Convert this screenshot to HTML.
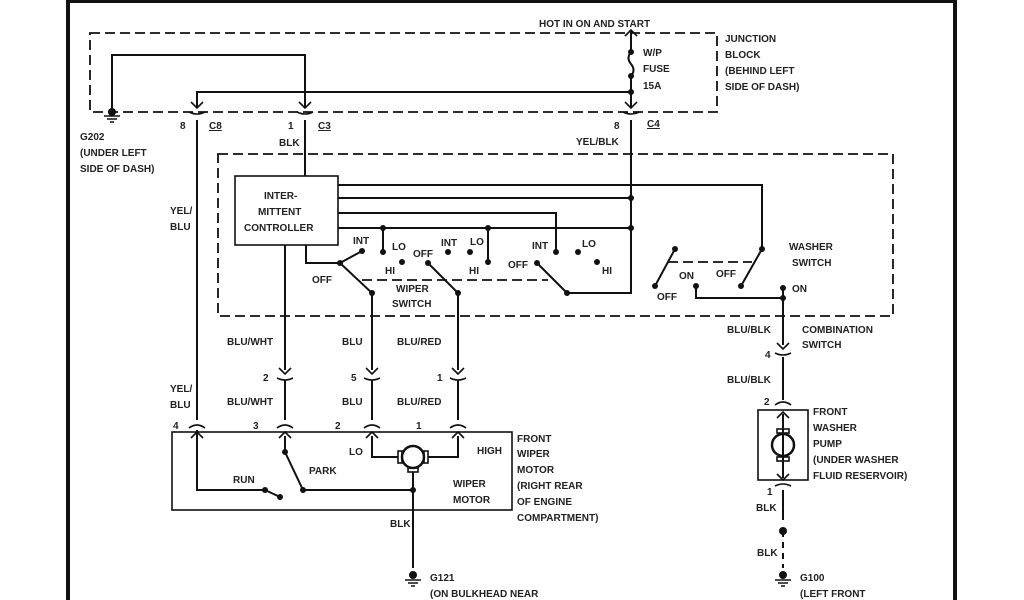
<!DOCTYPE html>
<html><head><style>
html,body{margin:0;padding:0;background:#fff;width:1024px;height:600px;overflow:hidden}
svg text{font-family:"Liberation Sans",Arial,sans-serif;font-size:10px;font-weight:bold;fill:#222}
</style></head><body>
<svg width="1024" height="600" viewBox="0 0 1024 600" xmlns="http://www.w3.org/2000/svg">
<g fill="none" stroke="#111">
<path d="M68,600 V1 H955 V600" stroke-width="4"/>
<g stroke-dasharray="10,5" stroke-width="1.8">
<rect x="90" y="33" width="627" height="79"/>
<rect x="218" y="154" width="675" height="162"/>
<path d="M362,280 H548"/>
<path d="M668,262 H752"/>
</g>
<g stroke-width="2">
<path d="M112,112 V55 H305 V108"/>
<path d="M197,108 V92 H631"/>
<path d="M631,30 V50 M631,76 V108"/>
<path d="M631,52 q-5,6 0,12 q5,6 0,12"/>
<path d="M305,120 V176"/>
<path d="M631,120 V293 H567"/>
<path d="M197,120 V420"/>
<rect x="235" y="176" width="103" height="69" stroke-width="1.6"/>
<path d="M338,185 H762 V249"/>
<path d="M338,198 H631"/>
<path d="M338,213 H556 V252"/>
<path d="M338,228 H631"/>
<path d="M383,228 V252 M488,228 V262"/>
<path d="M306,245 V263 H340 L362,251 M340,263 L372,293 V370"/>
<path d="M285,245 V370"/>
<path d="M428,263 L458,293 V370"/>
<path d="M537,263 L567,293"/>
<path d="M675,249 L655,286"/>
<path d="M762,249 L741,286"/>
<path d="M696,286 V298 H783 M783,288 V345"/>
<path d="M285,380 V420 M372,380 V420 M458,380 V420 M197,430 V490 H265"/>
<rect x="172" y="432" width="340" height="78" stroke-width="1.6"/>
<path d="M285,436 V452 L303,490 H413"/>
<path d="M265,490 L280,497"/>
<path d="M372,436 V457 H398 M458,436 V457 H428"/>
<path d="M413,472 V568"/>
<path d="M783,357 V400 M783,414 V478 M783,490 V520"/>
<path d="M783,531 V568" stroke-dasharray="6,5"/>
<rect x="758" y="410" width="50" height="70" stroke-width="1.6"/>
</g>
<g stroke-width="1.6">
<path d="M191,102 l6,6 l6,-6 M189,112 q8,4 16,0 M299,102 l6,6 l6,-6 M297,112 q8,4 16,0 M625,102 l6,6 l6,-6 M623,112 q8,4 16,0 M625,36 l6,-6 l6,6"/>
<path d="M279,368 l6,6 l6,-6 M277,378 q8,4 16,0 M366,368 l6,6 l6,-6 M364,378 q8,4 16,0 M452,368 l6,6 l6,-6 M450,378 q8,4 16,0"/>
<path d="M189,428 q8,-6 16,0 M191,438 l6,-6 l6,6 M277,428 q8,-6 16,0 M279,438 l6,-6 l6,6 M364,428 q8,-6 16,0 M366,438 l6,-6 l6,6 M450,428 q8,-6 16,0 M452,438 l6,-6 l6,6"/>
<path d="M777,343 l6,6 l6,-6 M775,353 q8,4 16,0 M775,405 q8,-6 16,0 M777,418 l6,-6 l6,6 M777,474 l6,6 l6,-6 M775,486 q8,-4 16,0"/>
<circle cx="413" cy="457" r="11" stroke-width="2.5"/>
<rect x="398" y="451" width="4" height="12"/><rect x="424" y="451" width="4" height="12"/>
<rect x="408" y="468" width="10" height="4"/>
<circle cx="783" cy="445" r="11" stroke-width="2.5"/>
<rect x="777" y="429" width="12" height="4"/><rect x="777" y="457" width="12" height="4"/>
<path d="M104,116 h16 M107,119 h10 M110,122 h4"/>
<path d="M405,580 h16 M408,583 h10 M411,586 h4"/>
<path d="M775,580 h16 M778,583 h10 M781,586 h4"/>
</g>
</g>
<g fill="#111">
<circle cx="112" cy="112" r="4"/><circle cx="413" cy="575" r="4"/><circle cx="783" cy="575" r="4"/>
<circle cx="631" cy="52" r="3"/><circle cx="631" cy="76" r="3"/><circle cx="631" cy="92" r="3"/>
<circle cx="631" cy="198" r="3"/><circle cx="631" cy="228" r="3"/><circle cx="383" cy="228" r="3"/><circle cx="488" cy="228" r="3"/>
<circle cx="362" cy="251" r="3"/><circle cx="383" cy="252" r="3"/><circle cx="402" cy="262" r="3"/><circle cx="340" cy="263" r="3"/><circle cx="372" cy="293" r="3"/>
<circle cx="428" cy="263" r="3"/><circle cx="448" cy="252" r="3"/><circle cx="470" cy="252" r="3"/><circle cx="488" cy="262" r="3"/><circle cx="458" cy="293" r="3"/>
<circle cx="537" cy="263" r="3"/><circle cx="556" cy="252" r="3"/><circle cx="578" cy="252" r="3"/><circle cx="597" cy="262" r="3"/><circle cx="567" cy="293" r="3"/>
<circle cx="675" cy="249" r="3"/><circle cx="655" cy="286" r="3"/><circle cx="762" cy="249" r="3"/><circle cx="741" cy="286" r="3"/>
<circle cx="696" cy="286" r="3"/><circle cx="783" cy="288" r="3"/><circle cx="783" cy="298" r="3"/>
<circle cx="285" cy="452" r="3"/><circle cx="303" cy="490" r="3"/><circle cx="265" cy="490" r="3"/><circle cx="280" cy="497" r="3"/><circle cx="413" cy="490" r="3"/>
<circle cx="783" cy="531" r="4"/>
</g>
<text x="539" y="27">HOT IN ON AND START</text>
<text x="643" y="56">W/P</text><text x="643" y="72">FUSE</text><text x="643" y="89">15A</text>
<text x="725" y="42">JUNCTION</text><text x="725" y="58">BLOCK</text><text x="725" y="74">(BEHIND LEFT</text><text x="725" y="90">SIDE OF DASH)</text>
<text x="180" y="129">8</text><text x="209" y="129" text-decoration="underline">C8</text>
<text x="288" y="129">1</text><text x="318" y="129" text-decoration="underline">C3</text>
<text x="614" y="129">8</text><text x="647" y="127" text-decoration="underline">C4</text>
<text x="279" y="146">BLK</text><text x="576" y="145">YEL/BLK</text>
<text x="80" y="140">G202</text><text x="80" y="156">(UNDER LEFT</text><text x="80" y="172">SIDE OF DASH)</text>
<text x="170" y="214">YEL/</text><text x="170" y="230">BLU</text>
<text x="264" y="199">INTER-</text><text x="258" y="215">MITTENT</text><text x="244" y="231">CONTROLLER</text>
<text x="353" y="244">INT</text><text x="392" y="250">LO</text><text x="385" y="274">HI</text><text x="312" y="283">OFF</text>
<text x="413" y="257">OFF</text><text x="441" y="246">INT</text><text x="470" y="245">LO</text><text x="469" y="274">HI</text>
<text x="508" y="268">OFF</text><text x="532" y="249">INT</text><text x="582" y="247">LO</text><text x="602" y="274">HI</text>
<text x="396" y="292">WIPER</text><text x="392" y="307">SWITCH</text>
<text x="679" y="279">ON</text><text x="716" y="277">OFF</text><text x="657" y="300">OFF</text><text x="792" y="292">ON</text>
<text x="789" y="250">WASHER</text><text x="792" y="266">SWITCH</text>
<text x="727" y="333">BLU/BLK</text><text x="802" y="333">COMBINATION</text><text x="802" y="348">SWITCH</text>
<text x="765" y="358">4</text><text x="727" y="383">BLU/BLK</text><text x="764" y="405">2</text>
<text x="813" y="415">FRONT</text><text x="813" y="431">WASHER</text><text x="813" y="447">PUMP</text><text x="813" y="463">(UNDER WASHER</text><text x="813" y="479">FLUID RESERVOIR)</text>
<text x="767" y="495">1</text><text x="756" y="511">BLK</text><text x="757" y="556">BLK</text>
<text x="800" y="581">G100</text><text x="800" y="597">(LEFT FRONT</text>
<text x="227" y="345">BLU/WHT</text><text x="342" y="345">BLU</text><text x="397" y="345">BLU/RED</text>
<text x="170" y="392">YEL/</text><text x="170" y="408">BLU</text>
<text x="263" y="381">2</text><text x="351" y="381">5</text><text x="437" y="381">1</text>
<text x="227" y="405">BLU/WHT</text><text x="342" y="405">BLU</text><text x="397" y="405">BLU/RED</text>
<text x="173" y="429">4</text><text x="253" y="429">3</text><text x="335" y="429">2</text><text x="416" y="429">1</text>
<text x="349" y="455">LO</text><text x="477" y="454">HIGH</text>
<text x="517" y="442">FRONT</text><text x="517" y="457">WIPER</text><text x="517" y="473">MOTOR</text><text x="517" y="489">(RIGHT REAR</text><text x="517" y="505">OF ENGINE</text><text x="517" y="521">COMPARTMENT)</text>
<text x="309" y="474">PARK</text><text x="233" y="483">RUN</text>
<text x="453" y="487">WIPER</text><text x="453" y="503">MOTOR</text>
<text x="390" y="527">BLK</text>
<text x="430" y="581">G121</text><text x="430" y="597">(ON BULKHEAD NEAR</text>
</svg>
</body></html>
